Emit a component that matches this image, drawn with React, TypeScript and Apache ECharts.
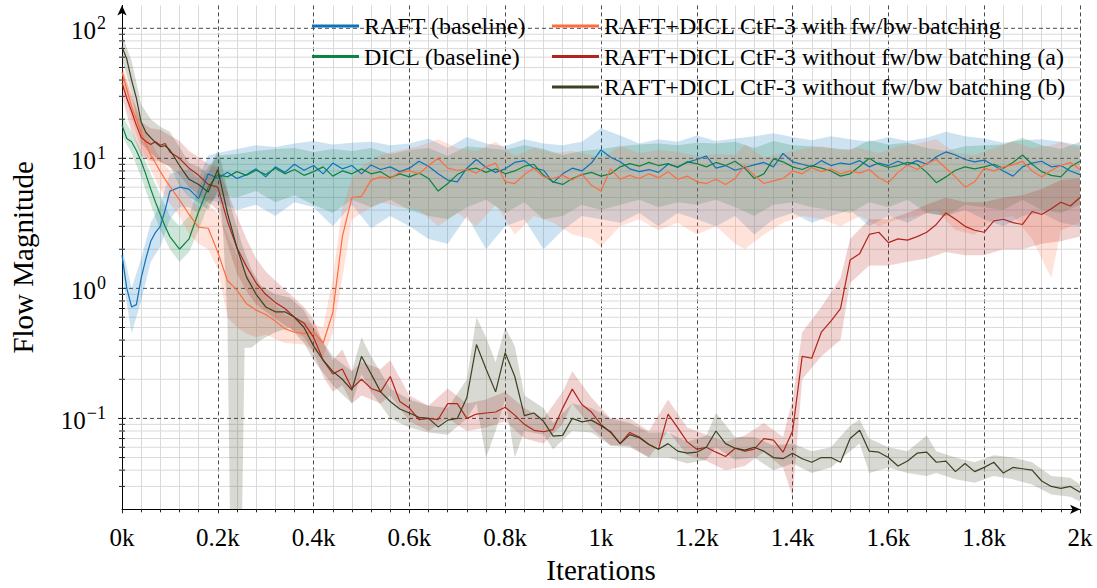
import React, { useEffect, useRef } from 'react';
import * as echarts from 'echarts';

const FONT = "'Liberation Serif', 'Times New Roman', serif";

// Training iterations at which the flow magnitude was logged
const ITERS = [
  0, 10, 20, 30, 40, 50, 60, 70, 80, 90, 100,
  120, 140, 160, 180, 200, 220, 240, 260, 280, 300,
  320, 340, 360, 380, 400, 420, 440, 460, 480, 500,
  520, 540, 560, 580, 600, 620, 640, 660, 680, 700,
  720, 740, 760, 780, 800, 820, 840, 860, 880, 900,
  920, 940, 960, 980, 1000, 1020, 1040, 1060, 1080, 1100,
  1120, 1140, 1160, 1180, 1200, 1220, 1240, 1260, 1280, 1300,
  1320, 1340, 1360, 1380, 1400, 1420, 1440, 1460, 1480, 1500,
  1520, 1540, 1560, 1580, 1600, 1620, 1640, 1660, 1680, 1700,
  1720, 1740, 1760, 1780, 1800, 1820, 1840, 1860, 1880, 1900,
  1920, 1940, 1960, 1980, 2000,
];

const RAFT_MEAN = [
  1.8, 1.0, 0.72, 0.75, 1.2, 1.7, 2.3, 2.7, 3.0, 4.0, 5.6,
  6.0, 5.8, 4.9, 7.6, 7.0, 7.8, 7.0, 7.5, 8.3, 7.2,
  8.6, 7.8, 9.0, 8.1, 8.8, 7.6, 9.2, 8.3, 8.8, 7.6,
  8.9, 8.2, 8.6, 7.9, 8.4, 9.5, 8.7, 7.6, 6.8, 6.6,
  8.4, 9.8, 8.5, 7.8, 8.3, 9.3, 9.6, 8.4, 8.1, 6.5,
  7.6, 8.4, 8.0, 9.2, 11.6, 10.2, 9.4, 8.3, 7.9, 8.2,
  7.8, 9.0, 8.6, 9.3, 9.8, 10.4, 8.4, 8.8, 8.1, 8.5,
  8.9, 9.3, 8.6, 10.9, 9.4, 9.0, 8.6, 9.6, 8.8, 9.2,
  9.0, 9.6, 8.6, 9.2, 8.8, 9.5, 8.9, 9.6, 9.0, 10.3,
  11.2, 10.6, 9.8, 9.4, 9.7, 8.8, 8.0, 7.3, 8.6, 9.2,
  9.5, 8.6, 8.8, 8.0, 7.5,
];

const DICL_MEAN = [
  18, 14.2, 13.4, 11.5, 9.5, 7.5, 5.8, 4.6, 3.7, 3.0, 2.5,
  2.0, 2.4, 3.9, 6.0, 7.5, 7.2, 7.9, 7.4, 8.1, 7.5,
  8.4, 7.6, 8.2, 7.4, 7.9, 8.6, 7.3, 8.0, 7.6, 8.3,
  7.6, 7.9, 7.1, 7.6, 7.2, 7.7, 7.0, 5.6, 6.4, 7.5,
  8.2, 8.4, 7.8, 8.3, 7.6, 8.0, 8.7, 9.0, 7.4, 6.6,
  6.3, 7.0, 7.5, 7.8, 7.3, 7.6, 8.6, 9.1, 8.7, 9.3,
  8.8, 9.1, 8.5, 9.4, 9.1, 8.6, 9.3, 8.8, 9.5, 8.4,
  7.0, 7.6, 9.9, 9.4, 8.6, 8.2, 8.8, 8.4, 8.0, 7.3,
  7.6, 8.7, 10.0, 9.0, 8.5, 8.8, 9.3, 9.0, 7.8, 6.5,
  7.2, 8.1, 8.6, 8.3, 8.6, 9.0, 8.4, 9.3, 10.6, 9.0,
  7.9, 7.4, 7.2, 8.6, 9.5,
];

const CTF_BATCHED_MEAN = [
  46, 34, 25, 20, 15.8, 12.8, 10.6, 9.2, 7.9, 6.9, 6.1,
  4.8, 3.7, 2.95, 2.9, 1.9, 1.15, 0.97, 0.76, 0.68, 0.63,
  0.56, 0.49, 0.46, 0.45, 0.46, 0.38, 0.65, 2.5, 5.0, 5.1,
  6.8, 7.2, 7.0, 7.8, 8.0, 7.6, 8.8, 10.0, 8.4, 8.1,
  8.2, 7.7, 8.6, 9.2, 6.6, 6.4, 7.5, 8.4, 7.2, 7.0,
  7.4, 6.8, 7.6, 6.2, 5.6, 8.3, 6.9, 7.4, 7.0, 7.6,
  7.1, 7.9, 6.9, 7.3, 6.6, 6.4, 6.9, 6.3, 7.0, 8.8,
  7.4, 6.4, 6.7, 7.0, 8.0, 7.6, 8.5, 7.9, 8.3, 7.6,
  8.0, 7.7, 8.2, 7.1, 6.5, 7.8, 8.9, 8.2, 9.1, 9.8,
  8.4, 7.2, 6.0, 6.6, 8.4, 8.0, 8.6, 8.9, 9.5, 8.0,
  7.2, 8.1, 8.8, 9.3, 8.2,
];

const CTF_UNBATCHED_A_MEAN = [
  38, 29, 23, 18, 14.5, 13.5, 12.8, 13.4, 12.6, 13.0, 11.2,
  10.0, 8.4, 7.4, 6.3, 6.0, 3.3, 2.05, 1.47, 1.1, 0.9,
  0.78, 0.7, 0.6, 0.54, 0.42, 0.28, 0.22, 0.24, 0.17, 0.2,
  0.17, 0.16, 0.21, 0.135, 0.12, 0.098, 0.1, 0.098, 0.13, 0.13,
  0.1, 0.108, 0.11, 0.112, 0.122, 0.106, 0.09, 0.081, 0.079, 0.082,
  0.12, 0.168, 0.128, 0.112, 0.09, 0.078, 0.064, 0.078, 0.072, 0.063,
  0.058, 0.108, 0.085, 0.066, 0.058, 0.06, 0.055, 0.051, 0.059, 0.056,
  0.058, 0.07, 0.068, 0.055, 0.08, 0.3, 0.29, 0.46, 0.56, 0.7,
  1.65, 1.85, 2.6, 2.7, 2.25, 2.4, 2.35, 2.5, 2.7, 3.1,
  3.8, 3.4, 3.0, 2.8, 2.7, 3.3, 3.4, 3.2, 3.1, 3.9,
  3.7, 4.1, 4.6, 4.3, 5.0,
];

const CTF_UNBATCHED_B_MEAN = [
  72, 58, 40, 29, 19, 15.8, 14.4, 13.2, 12.3, 12.5, 11.6,
  8.8, 6.9, 6.3, 5.5, 8.2, 3.8, 2.05, 1.22, 0.9, 0.72,
  0.66, 0.66, 0.6, 0.5, 0.36, 0.28, 0.23, 0.2, 0.165, 0.3,
  0.22, 0.16, 0.135, 0.118, 0.11, 0.102, 0.1, 0.086, 0.097, 0.1,
  0.145, 0.37, 0.24, 0.16, 0.32, 0.21, 0.105, 0.11, 0.095, 0.073,
  0.074, 0.1, 0.094, 0.097, 0.088, 0.079, 0.064, 0.075, 0.071, 0.063,
  0.058, 0.064, 0.056, 0.054, 0.055, 0.06, 0.08, 0.064, 0.059, 0.057,
  0.06, 0.056, 0.05, 0.049, 0.054, 0.049, 0.046, 0.05, 0.05, 0.046,
  0.07, 0.081, 0.056, 0.055, 0.05, 0.043, 0.047, 0.054, 0.055, 0.046,
  0.047, 0.039, 0.045, 0.039, 0.042, 0.046, 0.038, 0.042, 0.041, 0.04,
  0.033, 0.03, 0.029, 0.03, 0.027,
];

// Spread across runs: [iteration, lower, upper]
const RAFT_BAND = [
  [0, 1.3, 2.1], [20, 0.45, 1.0], [40, 0.8, 1.7], [60, 1.6, 3.2], [80, 2.1, 4.4],
  [100, 3.4, 7.6], [120, 4.2, 8.0], [140, 4.2, 8.2], [160, 3.8, 7.0], [180, 4.8, 10.5],
  [200, 4.6, 11.0], [240, 4.0, 11.8], [280, 4.4, 12.6], [320, 3.6, 12.2], [360, 4.6, 13.0],
  [400, 4.2, 13.6], [440, 3.0, 12.8], [480, 4.4, 13.2], [520, 2.9, 13.4], [560, 3.6, 12.6],
  [600, 3.0, 13.0], [640, 2.4, 14.2], [680, 2.2, 12.0], [720, 3.6, 14.6], [760, 2.0, 13.0],
  [800, 3.0, 12.4], [840, 3.4, 14.0], [880, 2.0, 13.0], [920, 2.8, 12.6], [960, 3.6, 13.4],
  [1000, 3.4, 17.0], [1040, 3.2, 15.0], [1080, 3.8, 13.0], [1120, 3.0, 14.0], [1160, 3.8, 13.4],
  [1200, 3.4, 15.0], [1240, 3.0, 13.6], [1280, 3.6, 14.2], [1320, 2.6, 14.8], [1360, 3.4, 15.6],
  [1400, 3.8, 14.6], [1440, 3.2, 13.8], [1480, 3.6, 14.8], [1520, 4.0, 14.0], [1560, 3.0, 13.4],
  [1600, 3.6, 14.6], [1640, 3.2, 13.6], [1680, 3.8, 14.4], [1720, 3.6, 16.0], [1760, 4.0, 14.8],
  [1800, 3.4, 14.2], [1840, 3.0, 13.2], [1880, 3.6, 13.8], [1920, 3.8, 14.0], [1960, 3.2, 13.4],
  [2000, 3.0, 12.6],
];

const DICL_BAND = [
  [0, 15, 21], [20, 11, 16], [40, 7.2, 11.5], [60, 4.4, 7.6], [80, 2.8, 5.2],
  [100, 2.0, 3.6], [120, 1.6, 3.0], [140, 1.9, 3.6], [160, 2.8, 6.0], [180, 4.4, 8.6],
  [200, 5.2, 10.5], [240, 5.0, 10.8], [280, 5.6, 11.4], [320, 4.6, 11.8], [360, 5.2, 12.0],
  [400, 4.4, 11.2], [440, 3.8, 11.8], [480, 4.8, 11.4], [520, 4.2, 12.0], [560, 4.8, 10.8],
  [600, 4.0, 11.6], [640, 3.6, 12.0], [680, 3.4, 10.4], [720, 4.2, 12.4], [760, 4.8, 12.0],
  [800, 3.8, 11.6], [840, 4.6, 12.6], [880, 3.4, 11.8], [920, 3.6, 10.6], [960, 4.4, 11.4],
  [1000, 4.0, 11.8], [1040, 4.4, 12.4], [1080, 4.8, 12.8], [1120, 4.2, 13.0], [1160, 4.6, 12.6],
  [1200, 4.4, 13.2], [1240, 4.8, 13.0], [1280, 4.2, 13.4], [1320, 3.6, 12.0], [1360, 4.4, 13.6],
  [1400, 4.6, 12.6], [1440, 4.2, 12.4], [1480, 4.0, 12.0], [1520, 3.8, 11.6], [1560, 4.6, 13.8],
  [1600, 4.2, 12.8], [1640, 4.8, 13.2], [1680, 3.8, 12.0], [1720, 3.6, 11.4], [1760, 4.4, 12.4],
  [1800, 4.2, 12.6], [1840, 4.0, 12.8], [1880, 4.8, 14.4], [1920, 4.0, 12.6], [1960, 3.8, 11.8],
  [2000, 4.4, 13.4],
];

const CTF_BATCHED_BAND = [
  [0, 38, 52], [20, 20, 32], [40, 12, 19], [60, 8.2, 13.4], [80, 5.8, 10.0],
  [100, 4.5, 8.0], [120, 3.6, 6.6], [140, 2.6, 5.0], [160, 2.2, 4.2], [180, 2.0, 4.4],
  [200, 1.4, 3.8], [220, 0.6, 2.6], [240, 0.5, 1.8], [260, 0.45, 1.3], [280, 0.42, 1.05],
  [300, 0.44, 0.88], [340, 0.38, 0.62], [380, 0.37, 0.56], [420, 0.3, 0.5], [440, 0.45, 1.2],
  [460, 1.2, 4.2], [480, 3.4, 7.0], [500, 3.8, 8.6], [540, 4.6, 10.6], [580, 4.2, 11.6],
  [620, 4.0, 12.4], [660, 3.0, 14.0], [700, 3.8, 12.0], [740, 3.0, 11.4], [780, 4.4, 13.4],
  [820, 2.6, 10.4], [860, 3.6, 12.0], [900, 3.2, 11.0], [940, 2.6, 11.4], [980, 2.4, 10.6],
  [1000, 2.1, 10.0], [1040, 3.0, 12.4], [1080, 3.4, 11.0], [1120, 2.8, 11.6], [1160, 3.2, 11.2],
  [1200, 2.6, 10.4], [1240, 3.0, 10.8], [1280, 2.2, 10.6], [1300, 2.0, 12.8], [1340, 2.6, 10.2],
  [1380, 3.2, 11.0], [1420, 3.6, 11.8], [1460, 3.4, 12.4], [1500, 3.0, 11.6], [1540, 3.6, 12.0],
  [1580, 3.0, 11.0], [1620, 3.4, 12.4], [1660, 3.6, 13.0], [1700, 4.0, 14.0], [1740, 2.8, 11.0],
  [1780, 2.6, 10.6], [1820, 3.4, 12.0], [1860, 3.6, 13.4], [1900, 2.4, 12.0], [1940, 1.2, 12.6],
  [1960, 2.8, 13.4], [2000, 3.2, 12.0],
];

const CTF_UNBATCHED_A_BAND = [
  [0, 30, 50], [20, 16, 30], [40, 10.5, 19], [60, 9.6, 17], [80, 9.4, 16.6],
  [100, 8.6, 15.0], [120, 7.4, 13.6], [140, 6.0, 11.4], [160, 5.2, 10.2], [180, 4.6, 9.0],
  [200, 4.0, 8.6], [220, 2.2, 5.6], [240, 1.3, 3.6], [260, 0.95, 2.4], [280, 0.75, 1.7],
  [300, 0.66, 1.35], [340, 0.52, 0.98], [380, 0.42, 0.72], [400, 0.32, 0.58], [420, 0.21, 0.38],
  [440, 0.16, 0.28], [460, 0.18, 0.34], [480, 0.13, 0.23], [500, 0.15, 0.27], [540, 0.13, 0.24],
  [560, 0.15, 0.28], [600, 0.095, 0.15], [640, 0.08, 0.125], [680, 0.1, 0.17], [720, 0.08, 0.13],
  [760, 0.085, 0.14], [800, 0.095, 0.16], [840, 0.07, 0.12], [880, 0.064, 0.1], [920, 0.09, 0.16],
  [940, 0.13, 0.23], [980, 0.085, 0.145], [1020, 0.062, 0.1], [1060, 0.062, 0.1], [1100, 0.05, 0.08],
  [1140, 0.08, 0.14], [1180, 0.052, 0.085], [1220, 0.047, 0.075], [1260, 0.04, 0.066], [1300, 0.043, 0.074],
  [1340, 0.055, 0.092], [1380, 0.042, 0.072], [1400, 0.025, 0.14], [1420, 0.2, 0.46], [1460, 0.3, 0.72],
  [1500, 0.4, 1.2], [1520, 1.1, 2.4], [1560, 1.5, 3.4], [1600, 1.5, 3.4], [1640, 1.6, 3.8],
  [1680, 1.7, 4.4], [1720, 1.9, 5.0], [1760, 1.8, 4.6], [1800, 1.8, 4.6], [1840, 2.0, 5.0],
  [1880, 2.0, 5.2], [1920, 2.2, 5.8], [1960, 2.3, 6.8], [2000, 2.5, 7.0],
];

const CTF_UNBATCHED_B_BAND = [
  [0, 58, 90], [20, 32, 56], [40, 13, 26], [60, 11, 20], [80, 9.4, 17.5],
  [100, 8.6, 16], [120, 6.2, 12.2], [140, 5.0, 9.2], [160, 4.6, 8.6], [180, 4.0, 7.6],
  [200, 5.6, 11.6], [210, 3.2, 8.6], [220, 0.6, 5.6], [226, 0.012, 4.4], [250, 0.012, 2.2],
  [256, 0.35, 1.9], [270, 0.35, 1.4], [290, 0.4, 1.05], [320, 0.46, 0.9], [350, 0.5, 0.85],
  [380, 0.38, 0.68], [400, 0.28, 0.5], [440, 0.18, 0.3], [480, 0.13, 0.23], [500, 0.22, 0.42],
  [520, 0.16, 0.3], [560, 0.1, 0.17], [600, 0.085, 0.14], [640, 0.078, 0.125], [680, 0.075, 0.12],
  [720, 0.1, 0.2], [740, 0.13, 0.6], [760, 0.05, 0.42], [780, 0.08, 0.27], [800, 0.14, 0.5],
  [820, 0.05, 0.36], [840, 0.08, 0.15], [880, 0.075, 0.12], [900, 0.058, 0.092], [940, 0.08, 0.13],
  [980, 0.078, 0.12], [1020, 0.062, 0.1], [1060, 0.06, 0.092], [1100, 0.05, 0.078], [1140, 0.05, 0.078],
  [1180, 0.045, 0.066], [1220, 0.048, 0.074], [1240, 0.06, 0.11], [1280, 0.048, 0.072], [1320, 0.05, 0.072],
  [1360, 0.04, 0.062], [1400, 0.045, 0.064], [1440, 0.038, 0.056], [1480, 0.042, 0.06], [1520, 0.056, 0.088],
  [1540, 0.064, 0.098], [1560, 0.038, 0.07], [1600, 0.042, 0.06], [1640, 0.038, 0.056], [1680, 0.036, 0.074],
  [1700, 0.038, 0.056], [1740, 0.034, 0.05], [1780, 0.032, 0.046], [1820, 0.036, 0.052], [1860, 0.034, 0.05],
  [1900, 0.031, 0.046], [1940, 0.026, 0.036], [1980, 0.025, 0.035], [2000, 0.023, 0.031],
];

const X_MAX = 2000;
const X_STEP = 200;
const Y_MIN = 0.02;
const Y_MAX = 150;

const RUNS = [
  { name: 'RAFT (baseline)', mean: RAFT_MEAN, band: RAFT_BAND, color: '#0b72bd', fill: 'rgba(11,114,189,0.2)', legend: 0 },
  { name: 'DICL (baseline)', mean: DICL_MEAN, band: DICL_BAND, color: '#0b8443', fill: 'rgba(11,132,67,0.2)', legend: 0 },
  { name: 'RAFT+DICL CtF-3 with fw/bw batching', mean: CTF_BATCHED_MEAN, band: CTF_BATCHED_BAND, color: '#ff6d3f', fill: 'rgba(255,109,63,0.2)', legend: 1 },
  { name: 'RAFT+DICL CtF-3 without fw/bw batching (a)', mean: CTF_UNBATCHED_A_MEAN, band: CTF_UNBATCHED_A_BAND, color: '#b3251a', fill: 'rgba(179,37,26,0.2)', legend: 1 },
  { name: 'RAFT+DICL CtF-3 without fw/bw batching (b)', mean: CTF_UNBATCHED_B_MEAN, band: CTF_UNBATCHED_B_BAND, color: '#3a4221', fill: 'rgba(58,66,33,0.2)', legend: 1 },
];

// log-axis grid: [x, value, isDecade]
const Y_GRID: number[][] = [];
for (let e = -2; e <= 2; e++) {
  for (let m = 1; m <= 9; m++) {
    const v = +(m * Math.pow(10, e)).toPrecision(3);
    if (v > Y_MIN * 1.0001 && v < Y_MAX) Y_GRID.push([0, v, m === 1 ? 1 : 0]);
  }
}

function decadeLabel(v: number): string {
  const e = Math.log10(v);
  const r = Math.round(e);
  if (Math.abs(e - r) > 1e-6) return '';
  return `{b|10}{s|${r < 0 ? '\u2212' + -r : r}}`;
}

function buildOption(): any {
  const series: any[] = [];

  series.push({
    type: 'custom',
    coordinateSystem: 'cartesian2d',
    silent: true,
    z: 1,
    data: Y_GRID,
    encode: { x: 0, y: 1 },
    renderItem: (params: any, api: any) => {
      const v = api.value(1);
      const major = api.value(2) === 1;
      const y = api.coord([0, v])[1];
      const cs = params.coordSys;
      return {
        type: 'group',
        children: [
          {
            type: 'line',
            shape: { x1: cs.x, y1: y, x2: cs.x + cs.width, y2: y },
            style: major
              ? { stroke: '#4a4a4a', lineWidth: 1, lineDash: [4, 3] }
              : { stroke: '#dadada', lineWidth: 1 },
          },
          {
            type: 'line',
            shape: { x1: cs.x - (major ? 4 : 3), y1: y, x2: cs.x + (major ? 4 : 3), y2: y },
            style: { stroke: '#222', lineWidth: 1 },
          },
        ],
      };
    },
  });

  RUNS.forEach((run) => {
    series.push({
      type: 'custom',
      coordinateSystem: 'cartesian2d',
      silent: true,
      clip: true,
      z: 2,
      data: run.band,
      encode: { x: 0, y: [1, 2] },
      renderItem: (params: any, api: any) => {
        if (params.dataIndex !== 0) return null;
        const upper = run.band.map((d) => api.coord([d[0], d[2]]));
        const lower = run.band.map((d) => api.coord([d[0], d[1]])).reverse();
        return {
          type: 'polygon',
          shape: { points: upper.concat(lower) },
          style: { fill: run.fill, stroke: 'none' },
        };
      },
    });
  });

  RUNS.forEach((run) => {
    series.push({
      type: 'line',
      name: run.name,
      z: 3,
      symbol: 'none',
      silent: true,
      lineStyle: { color: run.color, width: 1.2 },
      itemStyle: { color: run.color },
      data: ITERS.map((x, i) => [x, run.mean[i]]),
    });
  });

  const legendCommon = {
    orient: 'vertical',
    top: 9,
    itemWidth: 47,
    itemHeight: 3,
    itemGap: 6.5,
    icon: 'rect',
    selectedMode: false,
    textStyle: { fontFamily: FONT, fontSize: 24, color: '#000' },
  };

  return {
    animation: false,
    backgroundColor: '#fff',
    grid: { left: 122, right: 17, top: 5.4, bottom: 78.7, outerBoundsMode: 'none' },
    legend: [
      { ...legendCommon, left: 307, data: RUNS.filter((r) => r.legend === 0).map((r) => r.name) },
      { ...legendCommon, left: 547, data: RUNS.filter((r) => r.legend === 1).map((r) => r.name) },
    ],
    xAxis: {
      type: 'value',
      min: 0,
      max: X_MAX,
      interval: X_STEP,
      name: 'Iterations',
      nameLocation: 'middle',
      nameGap: 46,
      nameTextStyle: { fontFamily: FONT, fontSize: 29, color: '#000' },
      axisLine: {
        show: true,
        onZero: false,
        symbol: ['none', 'arrow'],
        symbolSize: [7, 10],
        lineStyle: { color: '#000', width: 1 },
      },
      axisTick: { show: true, length: 4, lineStyle: { color: '#222' } },
      minorTick: { show: true, splitNumber: 5, length: 3, lineStyle: { color: '#222' } },
      axisLabel: {
        fontFamily: FONT,
        fontSize: 25,
        color: '#000',
        margin: 16,
        formatter: (v: number) => `${+(v / 1000).toFixed(1)}k`,
      },
      splitLine: { show: true, lineStyle: { color: '#4a4a4a', width: 1, type: [4, 3] } },
      minorSplitLine: { show: true, lineStyle: { color: '#dadada', width: 1 } },
    },
    yAxis: {
      type: 'log',
      logBase: 10,
      min: Y_MIN,
      max: Y_MAX,
      name: 'Flow Magnitude',
      nameLocation: 'middle',
      nameGap: 85,
      nameTextStyle: { fontFamily: FONT, fontSize: 29, color: '#000' },
      axisLine: {
        show: true,
        onZero: false,
        symbol: ['none', 'arrow'],
        symbolSize: [7, 10],
        lineStyle: { color: '#000', width: 1 },
      },
      axisTick: { show: false },
      splitLine: { show: false },
      axisLabel: {
        margin: 16,
        formatter: decadeLabel,
        rich: {
          b: { fontFamily: FONT, fontSize: 25, color: '#000', padding: [4, 0, 0, 0], verticalAlign: 'bottom' },
          s: { fontFamily: FONT, fontSize: 18, color: '#000', verticalAlign: 'top', padding: [0, 0, 0, 1] },
        },
      },
    },
    series,
  };
}

export default function App() {
  const ref = useRef<HTMLDivElement>(null);
  useEffect(() => {
    const chart = echarts.init(ref.current!, null, { renderer: 'svg' });
    chart.setOption(buildOption());
    return () => chart.dispose();
  }, []);
  return (
    <div
      ref={ref}
      style={{ position: 'fixed', left: 0, top: 0, width: 1097, height: 588, background: '#fff' }}
    />
  );
}
